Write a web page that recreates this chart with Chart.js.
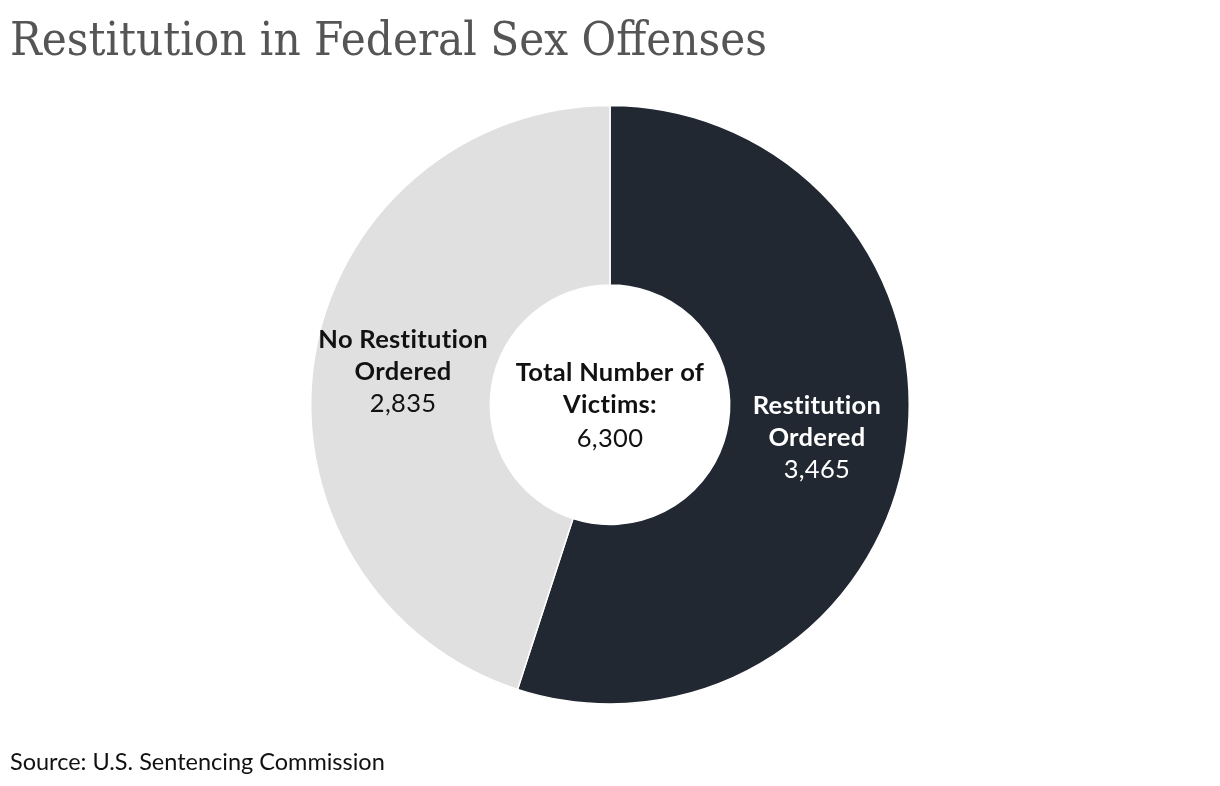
<!DOCTYPE html>
<html>
<head>
<meta charset="utf-8">
<script src="https://cdn.jsdelivr.net/npm/chart.js@4"></script>
<style>
html,body{margin:0;padding:0;background:#fff;}
#wrap{width:1220px;height:786px;position:relative;}
</style>
</head>
<body>
<div id="wrap"><canvas id="c" width="1220" height="786"></canvas></div>
<script>
const titleText = "Restitution in Federal Sex Offenses";
const sourceText = "Source: U.S. Sentencing Commission";
const categories = [["Restitution", "Ordered"], ["No Restitution", "Ordered"]];
const values = [3465, 2835];
const sliceColors = ["#212832", "#e0e0e0"];
const labelColors = ["#ffffff", "#111111"];
const centerLines = ["Total Number of", "Victims:"];
const total = values.reduce((a, b) => a + b, 0);
const fmt = n => n.toLocaleString("en-US");

const labelPlugin = {
  id: "sliceLabels",
  afterDatasetsDraw(chart) {
    const ctx = chart.ctx;
    const meta = chart.getDatasetMeta(0);
    ctx.save();
    ctx.textAlign = "center";
    ctx.textBaseline = "middle";
    try { ctx.letterSpacing = "0.3px"; } catch (e) {}
    try { ctx.textRendering = "optimizeSpeed"; } catch (e) {}
    const lh = 32;
    meta.data.forEach((arc, i) => {
      const p = arc.tooltipPosition();
      const lines = categories[i];
      const all = lines.length + 1;
      const y0 = p.y - (all - 1) * lh / 2;
      ctx.fillStyle = labelColors[i];
      ctx.font = "bold 25.5px Lato";
      lines.forEach((t, k) => ctx.fillText(t, p.x, y0 + k * lh));
      ctx.font = "25.5px Lato";
      ctx.fillText(fmt(values[i]), p.x, y0 + lines.length * lh);
    });
    const a = meta.data[0];
    const cx = a.x, cy = a.y;
    ctx.fillStyle = "#111111";
    ctx.font = "bold 25.5px Lato";
    ctx.fillText(centerLines[0], cx, cy - 32);
    ctx.fillText(centerLines[1], cx, cy);
    ctx.font = "25.5px Lato";
    ctx.fillText(fmt(total), cx, cy + 34);
    ctx.restore();
  }
};

new Chart(document.getElementById("c"), {
  type: "doughnut",
  data: {
    labels: categories.map(c => c.join(" ")),
    datasets: [{
      data: values,
      backgroundColor: sliceColors,
      borderColor: "#ffffff",
      borderWidth: 1.5,
      hoverOffset: 0
    }]
  },
  options: {
    responsive: false,
    animation: false,
    cutout: "40%",
    layout: { padding: { left: 10, right: 10, top: 0, bottom: 0 } },
    plugins: {
      legend: { display: false },
      tooltip: { enabled: false },
      title: {
        display: true,
        text: titleText,
        align: "start",
        color: "#555555",
        font: { family: "'DejaVu Serif Condensed', 'DejaVu Serif', serif", size: 47, weight: "normal", lineHeight: 1.25 },
        padding: { top: 13, bottom: 33 }
      },
      subtitle: {
        display: true,
        position: "bottom",
        text: sourceText,
        align: "start",
        color: "#111111",
        font: { family: "Lato", size: 23.5, weight: "normal", lineHeight: 1.2 },
        padding: { top: 44, bottom: 9 }
      }
    }
  },
  plugins: [labelPlugin]
});
</script>
</body>
</html>
